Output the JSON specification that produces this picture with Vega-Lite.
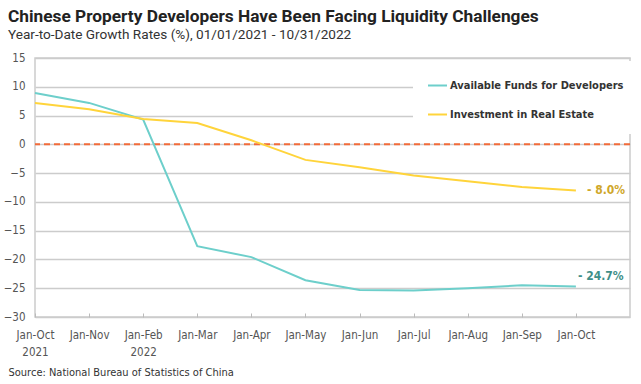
{
  "$schema": "https://vega.github.io/schema/vega-lite/v6.json",
  "width": 595,
  "height": 259,
  "autosize": {"type": "none"},
  "padding": {"left": 35, "top": 58, "right": 11, "bottom": 67},
  "background": "white",
  "config": {
    "view": {"stroke": "#cccccc", "strokeWidth": 1.5},
    "font": "Roboto",
    "axisX": {
      "grid": false,
      "domain": false,
      "ticks": true,
      "tickSize": -4,
      "tickColor": "#bbbbbb",
      "tickWidth": 1,
      "labelPadding": 16,
      "labelFont": "DejaVu Sans Condensed, Roboto",
      "labelFontSize": 11.5,
      "labelColor": "#555555",
      "labelLineHeight": 17,
      "labelFlush": false,
      "labelOverlap": false
    }
  },
  "title": {
    "text": "Chinese Property Developers Have Been Facing Liquidity Challenges",
    "subtitle": "Year-to-Date Growth Rates (%), 01/01/2021 - 10/31/2022",
    "anchor": "start",
    "frame": "group",
    "dx": -27,
    "offset": 10,
    "font": "Roboto",
    "fontSize": 17.3,
    "fontWeight": "bold",
    "color": "#222222",
    "subtitleFont": "Roboto",
    "subtitleFontSize": 13.6,
    "subtitleColor": "#333333",
    "subtitlePadding": 3
  },
  "datasets": {
    "series": [
      {"idx": 0, "period": "Jan-Oct 2021", "series": "Available Funds for Developers", "value": 8.9},
      {"idx": 1, "period": "Jan-Nov", "series": "Available Funds for Developers", "value": 7.2},
      {"idx": 2, "period": "Jan-Feb 2022", "series": "Available Funds for Developers", "value": 4.3},
      {"idx": 3, "period": "Jan-Mar", "series": "Available Funds for Developers", "value": -17.7},
      {"idx": 4, "period": "Jan-Apr", "series": "Available Funds for Developers", "value": -19.6},
      {"idx": 5, "period": "Jan-May", "series": "Available Funds for Developers", "value": -23.6},
      {"idx": 6, "period": "Jan-Jun", "series": "Available Funds for Developers", "value": -25.3},
      {"idx": 7, "period": "Jan-Jul", "series": "Available Funds for Developers", "value": -25.4},
      {"idx": 8, "period": "Jan-Aug", "series": "Available Funds for Developers", "value": -25.0},
      {"idx": 9, "period": "Jan-Sep", "series": "Available Funds for Developers", "value": -24.5},
      {"idx": 10, "period": "Jan-Oct", "series": "Available Funds for Developers", "value": -24.7},
      {"idx": 0, "period": "Jan-Oct 2021", "series": "Investment in Real Estate", "value": 7.2},
      {"idx": 1, "period": "Jan-Nov", "series": "Investment in Real Estate", "value": 6.1},
      {"idx": 2, "period": "Jan-Feb 2022", "series": "Investment in Real Estate", "value": 4.4},
      {"idx": 3, "period": "Jan-Mar", "series": "Investment in Real Estate", "value": 3.7},
      {"idx": 4, "period": "Jan-Apr", "series": "Investment in Real Estate", "value": 0.7},
      {"idx": 5, "period": "Jan-May", "series": "Investment in Real Estate", "value": -2.7},
      {"idx": 6, "period": "Jan-Jun", "series": "Investment in Real Estate", "value": -4.0},
      {"idx": 7, "period": "Jan-Jul", "series": "Investment in Real Estate", "value": -5.4},
      {"idx": 8, "period": "Jan-Aug", "series": "Investment in Real Estate", "value": -6.4},
      {"idx": 9, "period": "Jan-Sep", "series": "Investment in Real Estate", "value": -7.4},
      {"idx": 10, "period": "Jan-Oct", "series": "Investment in Real Estate", "value": -8.0}
    ],
    "ends": [
      {"idx": 10, "series": "Available Funds for Developers", "value": -24.7, "label": "- 24.7%"},
      {"idx": 10, "series": "Investment in Real Estate", "value": -8.0, "label": "- 8.0%"}
    ]
  },
  "encoding": {
    "y": {
      "field": "value",
      "type": "quantitative",
      "scale": {"domain": [-30, 15], "nice": false},
      "axis": {
        "values": [-30, -25, -20, -15, -10, -5, 0, 5, 10, 15],
        "grid": true,
        "gridColor": "#cccccc",
        "gridWidth": 1.5,
        "domain": false,
        "ticks": false,
        "labelPadding": 10,
        "labelOverlap": false,
        "labelFont": "DejaVu Sans Condensed, Roboto",
        "labelFontSize": 11.5,
        "labelColor": "#555555",
        "title": null
      }
    }
  },
  "layer": [
    {
      "data": {"values": [{"value": 0}]},
      "mark": {"type": "rule", "color": "#F26B3A", "strokeDash": [6, 4], "strokeWidth": 2},
      "encoding": {}
    },
    {
      "data": {"name": "series"},
      "mark": {"type": "line", "strokeWidth": 2},
      "encoding": {
        "x": {
          "field": "idx",
          "type": "quantitative",
          "scale": {"domain": [0, 11], "nice": false, "zero": false},
          "axis": {
            "values": [0, 1, 2, 3, 4, 5, 6, 7, 8, 9, 10],
            "labelExpr": "datum.value == 0 ? ['Jan-Oct', '2021'] : datum.value == 2 ? ['Jan-Feb', '2022'] : ['Jan-Oct','Jan-Nov','Jan-Feb','Jan-Mar','Jan-Apr','Jan-May','Jan-Jun','Jan-Jul','Jan-Aug','Jan-Sep','Jan-Oct'][datum.value]",
            "title": "Source: National Bureau of Statistics of China",
            "titleFont": "DejaVu Sans Condensed, Roboto",
            "titleFontSize": 11,
            "titleFontWeight": "normal",
            "titleColor": "#333333",
            "titleAlign": "left",
            "titleAnchor": "start",
            "titleBaseline": "alphabetic",
            "titleX": -27,
            "titleY": 58
          }
        },
        "color": {
          "field": "series",
          "type": "nominal",
          "scale": {
            "domain": ["Available Funds for Developers", "Investment in Real Estate"],
            "range": ["#6DCFCB", "#FFD43B"]
          },
          "legend": {
            "title": null,
            "orient": "none",
            "legendX": 378,
            "legendY": 3,
            "fillColor": "white",
            "padding": 14,
            "symbolType": "stroke",
            "symbolSize": 361,
            "symbolStrokeWidth": 2,
            "labelFont": "DejaVu Sans Condensed, Roboto",
            "labelFontWeight": "bold",
            "labelFontSize": 11,
            "labelColor": "#333333",
            "labelOffset": 2,
            "labelLimit": 0,
            "rowPadding": 13
          }
        }
      }
    },
    {
      "data": {"name": "ends"},
      "transform": [{"filter": "datum.series == 'Available Funds for Developers'"}],
      "mark": {"type": "text", "align": "left", "dx": 2, "dy": -10, "font": "DejaVu Sans Condensed, Roboto", "fontWeight": "bold", "fontSize": 12, "color": "#3F8F89"},
      "encoding": {
        "x": {"field": "idx", "type": "quantitative"},
        "text": {"field": "label"}
      }
    },
    {
      "data": {"name": "ends"},
      "transform": [{"filter": "datum.series == 'Investment in Real Estate'"}],
      "mark": {"type": "text", "align": "left", "dx": 11, "dy": 0, "font": "DejaVu Sans Condensed, Roboto", "fontWeight": "bold", "fontSize": 12, "color": "#CFA72A"},
      "encoding": {
        "x": {"field": "idx", "type": "quantitative"},
        "text": {"field": "label"}
      }
    }
  ]
}
